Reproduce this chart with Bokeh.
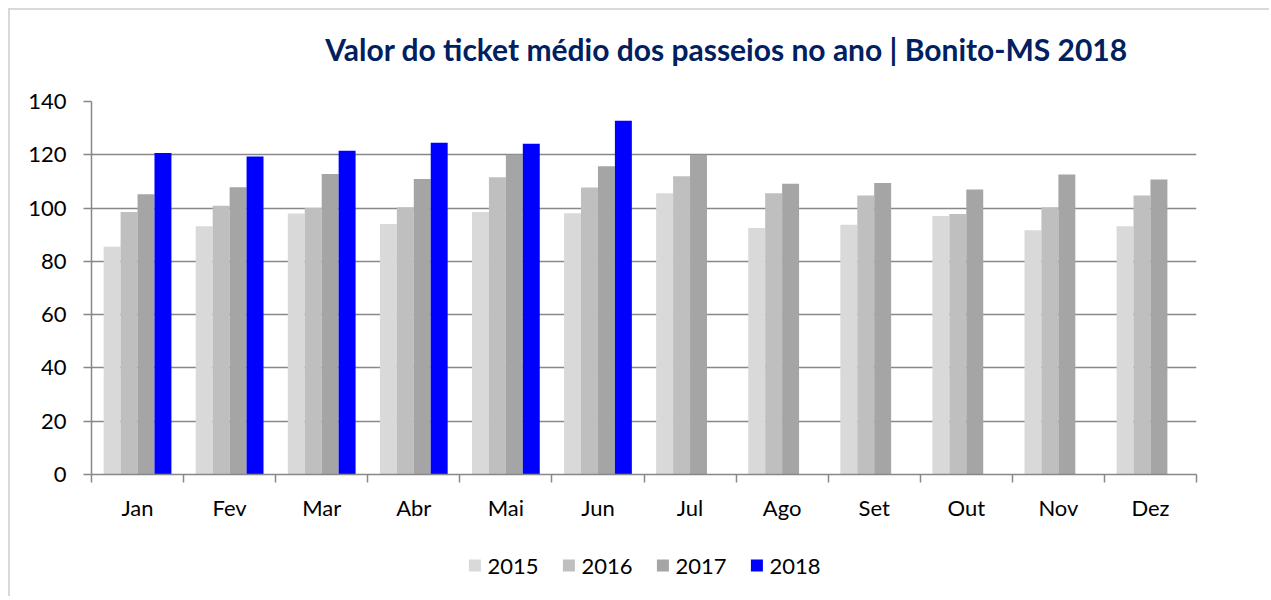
from bokeh.plotting import figure
from bokeh.models import (Range1d, FixedTicker, Legend, LegendItem, Label,
                          ColumnDataSource, Spacer)
from bokeh.layouts import row, column
from bokeh.embed import file_html
from bokeh.resources import INLINE

months = ["Jan", "Fev", "Mar", "Abr", "Mai", "Jun", "Jul", "Ago", "Set", "Out", "Nov", "Dez"]
years = ["2015", "2016", "2017", "2018"]
v2015 = [85.5, 93.2, 98.0, 94.0, 98.5, 98.1, 105.6, 92.5, 93.7, 97.0, 91.7, 93.2]
v2016 = [98.5, 100.9, 100.0, 100.3, 111.6, 107.7, 111.9, 105.6, 104.7, 97.8, 100.3, 104.7]
v2017 = [105.2, 107.8, 112.8, 110.9, 120.0, 115.7, 120.0, 109.1, 109.4, 107.0, 112.6, 110.7]
v2018 = [120.7, 119.4, 121.5, 124.5, 124.1, 132.8]
y_ticks = [0, 20, 40, 60, 80, 100, 120, 140]
title_text = "Valor do ticket médio dos passeios no ano | Bonito-MS 2018"

series = [v2015, v2016, v2017, v2018]
colors = ["#d9d9d9", "#bfbfbf", "#a5a5a5", "#0000ff"]
offsets = [-0.276, -0.092, 0.092, 0.276]
bar_w = 0.184

FONT = "Lato"
BORDER = "2px solid #d9d9d9"
W = 1261


def blank_strip(height, left=0, right=0, styles=None):
    f = figure(width=W, height=height, output_backend="svg", toolbar_location=None,
               x_range=Range1d(0, 1), y_range=Range1d(0, 1),
               x_axis_type=None, y_axis_type=None,
               min_border_left=left, min_border_right=right,
               min_border_top=0, min_border_bottom=0)
    f.styles = styles or {}
    f.outline_line_color = None
    f.xgrid.visible = False
    f.ygrid.visible = False
    f.background_fill_color = "white"
    f.border_fill_color = "white"
    return f


# ---------------- title strip ----------------
tf = blank_strip(78, styles={"border-left": BORDER, "border-top": BORDER})
tf.add_layout(Label(x=635, y=40, x_units="screen", y_units="screen",
                    text=title_text, text_font=FONT, text_font_size="30px",
                    text_font_style="bold", text_color="#002060",
                    text_align="center", text_baseline="middle"))

# ---------------- main chart ----------------
p = figure(width=W, height=448, output_backend="svg", toolbar_location=None,
           x_range=Range1d(0, len(months)), y_range=Range1d(0, 140),
           min_border_left=81, min_border_right=19, min_border_top=15,
           min_border_bottom=60)
p.styles = {"border-left": BORDER}
p.outline_line_color = None
p.background_fill_color = "white"
p.border_fill_color = "white"

for yr, vals, col, off in zip(years, series, colors, offsets):
    src = ColumnDataSource(dict(x=[i + 0.5 + off for i in range(len(vals))], top=vals))
    p.vbar(x="x", top="top", width=bar_w, bottom=0, source=src,
           fill_color=col, line_color=None)

# y axis
yax = p.yaxis[0]
yax.ticker = FixedTicker(ticks=y_ticks, minor_ticks=[])
yax.axis_line_color = "#888888"
yax.axis_line_width = 1.5
yax.major_tick_line_color = "#888888"
yax.major_tick_line_width = 1.5
yax.major_tick_out = 8
yax.major_tick_in = 0
yax.major_label_standoff = 17
yax.major_label_text_font = FONT
yax.major_label_text_font_size = "22px"
yax.major_label_text_color = "#000000"

# x axis: labels at centers, tick marks at boundaries (minor ticks)
xax = p.xaxis[0]
centers = [i + 0.5 for i in range(len(months))]
xax.ticker = FixedTicker(ticks=centers, minor_ticks=list(range(len(months) + 1)))
xax.major_label_overrides = {c: m for c, m in zip(centers, months)}
xax.axis_line_color = "#888888"
xax.axis_line_width = 1.5
xax.major_tick_line_color = None
xax.major_tick_out = 8
xax.minor_tick_line_color = "#888888"
xax.minor_tick_line_width = 1.5
xax.minor_tick_out = 8
xax.minor_tick_in = 0
xax.major_label_standoff = 11
xax.major_label_text_font = FONT
xax.major_label_text_font_size = "22px"
xax.major_label_text_color = "#000000"

p.xgrid.grid_line_color = None
p.ygrid.ticker = FixedTicker(ticks=y_ticks)
p.ygrid.grid_line_color = "#888888"
p.ygrid.grid_line_width = 1.5

# ---------------- legend strip ----------------
lf = blank_strip(62, left=0, right=75, styles={"border-left": BORDER})

# legend-only renderers: one off-range sample per year so the swatch is drawn
items = []
for yr, col in zip(years, colors):
    r = lf.vbar(x=[-5], top=[-5], bottom=-6, width=0.1, fill_color=col, line_color=None)
    items.append(LegendItem(label=yr, renderers=[r]))

legend = Legend(items=items, orientation="horizontal", location="center",
                glyph_width=15, glyph_height=15, label_standoff=6, spacing=22,
                label_text_font=FONT, label_text_font_size="22px",
                label_text_color="#000000", border_line_color=None,
                background_fill_alpha=0, padding=0, margin=0)
lf.add_layout(legend, "center")

layout = column(Spacer(height=8, width=1271),
                row(Spacer(width=8, height=588), column(tf, p, lf)))

open("out.html", "w").write(file_html(layout, INLINE))
